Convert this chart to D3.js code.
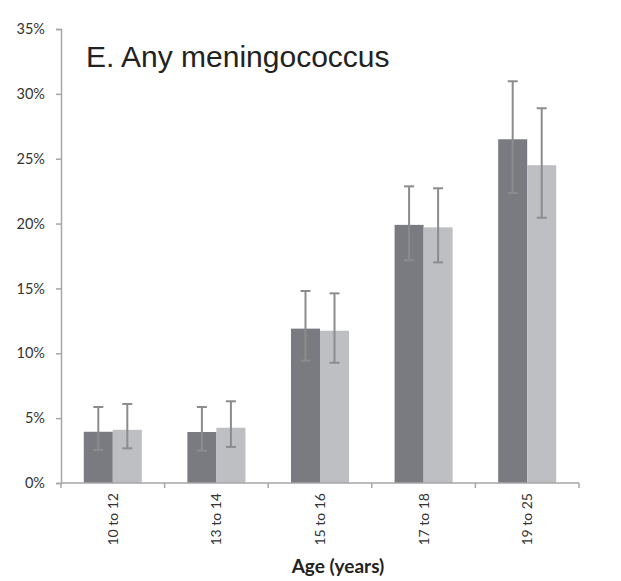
<!DOCTYPE html>
<html>
<head>
<meta charset="utf-8">
<script src="https://cdn.jsdelivr.net/npm/d3@7/dist/d3.min.js"></script>
<style>
  html, body { margin: 0; padding: 0; background: #fff; }
  svg { display: block; }
</style>
</head>
<body>
<svg id="chart" width="621" height="581"></svg>
<script>
// Age groups and prevalence (%) for the two series, with 95% CI bounds
const categories = ["10 to 12", "13 to 14", "15 to 16", "17 to 18", "19 to 25"];
const seriesA = [3.95, 3.93, 11.9, 19.9, 26.5];
const seriesALow = [2.54, 2.49, 9.43, 17.17, 22.36];
const seriesAHigh = [5.86, 5.86, 14.8, 22.87, 30.97];
const seriesB = [4.1, 4.26, 11.74, 19.71, 24.5];
const seriesBLow = [2.67, 2.78, 9.27, 17.01, 20.45];
const seriesBHigh = [6.09, 6.3, 14.62, 22.72, 28.89];
const yTicks = [0, 5, 10, 15, 20, 25, 30, 35];

const series = [
  { key: "a", values: seriesA, low: seriesALow, high: seriesAHigh, color: "#7a7b80" },
  { key: "b", values: seriesB, low: seriesBLow, high: seriesBHigh, color: "#bebfc3" }
];

const svg = d3.select("#chart");
const margin = { left: 61, right: 42, top: 29, bottom: 98 };
const width = 621, height = 581;
const x0 = margin.left, x1 = width - margin.right;
const yBottom = height - margin.bottom, yTop = margin.top;

const x = d3.scaleBand().domain(categories).range([x0, x1]).paddingInner(0).paddingOuter(0);
const xInner = d3.scaleBand().domain(series.map(s => s.key)).range([0, x.bandwidth()]).paddingInner(0).paddingOuter(0.785);
const y = d3.scaleLinear().domain([0, 35]).range([yBottom, yTop]);

const axisColor = "#a6a6a6";
const tickFont = "Lato, 'Open Sans', sans-serif";

// Y axis
const yAxis = svg.append("g").attr("transform", `translate(${x0},0)`)
  .call(d3.axisLeft(y).tickValues(yTicks).tickFormat(d => d + "%").tickSize(5).tickPadding(11));
yAxis.select(".domain").attr("stroke", axisColor).attr("stroke-width", 1.5);
yAxis.selectAll(".tick line").attr("stroke", axisColor).attr("stroke-width", 1.5);
yAxis.selectAll(".tick text").attr("fill", "#333").style("font-family", tickFont).style("font-size", "14.5px");

// Bars
const groups = svg.append("g").selectAll("g")
  .data(categories).join("g")
  .attr("transform", d => `translate(${x(d)},0)`);

series.forEach(s => {
  groups.append("rect")
    .attr("x", xInner(s.key))
    .attr("width", xInner.bandwidth())
    .attr("y", (d, i) => y(s.values[i]))
    .attr("height", (d, i) => y(0) - y(s.values[i]))
    .attr("fill", s.color);
});

// Error bars
const errColor = "#8c8c8c";
series.forEach(s => {
  const cx = xInner(s.key) + xInner.bandwidth() / 2;
  groups.append("line")
    .attr("x1", cx).attr("x2", cx)
    .attr("y1", (d, i) => y(s.low[i])).attr("y2", (d, i) => y(s.high[i]))
    .attr("stroke", errColor).attr("stroke-width", 2);
  [s.low, s.high].forEach(arr => {
    groups.append("line")
      .attr("x1", cx - 5).attr("x2", cx + 5)
      .attr("y1", (d, i) => y(arr[i])).attr("y2", (d, i) => y(arr[i]))
      .attr("stroke", errColor).attr("stroke-width", 2);
  });
});

// X axis with ticks at category boundaries
const xAxisG = svg.append("g").attr("transform", `translate(0,${yBottom})`);
xAxisG.append("line").attr("x1", x0).attr("x2", x1).attr("y1", 0).attr("y2", 0)
  .attr("stroke", axisColor).attr("stroke-width", 1.5);
const boundaries = categories.map(c => x(c)).concat([x1]);
xAxisG.selectAll("line.tick").data(boundaries).join("line")
  .attr("class", "tick")
  .attr("x1", d => d).attr("x2", d => d).attr("y1", 0).attr("y2", 5)
  .attr("stroke", axisColor).attr("stroke-width", 1.5);
xAxisG.selectAll("text").data(categories).join("text")
  .attr("transform", d => `translate(${x(d) + x.bandwidth() / 2 + 5},10) rotate(-90)`)
  .attr("text-anchor", "end")
  .attr("fill", "#333")
  .style("font-family", tickFont).style("font-size", "14px")
  .text(d => d);

// Axis title
svg.append("text")
  .attr("x", 338).attr("y", 573)
  .attr("text-anchor", "middle")
  .attr("fill", "#222")
  .style("font-family", tickFont).style("font-weight", "bold").style("font-size", "19px")
  .text("Age (years)");

// Panel title
svg.append("text")
  .attr("x", 86).attr("y", 67)
  .attr("fill", "#222")
  .style("font-family", "'Liberation Sans', Arial, sans-serif").style("font-size", "30px")
  .text("E. Any meningococcus");
</script>
</body>
</html>
